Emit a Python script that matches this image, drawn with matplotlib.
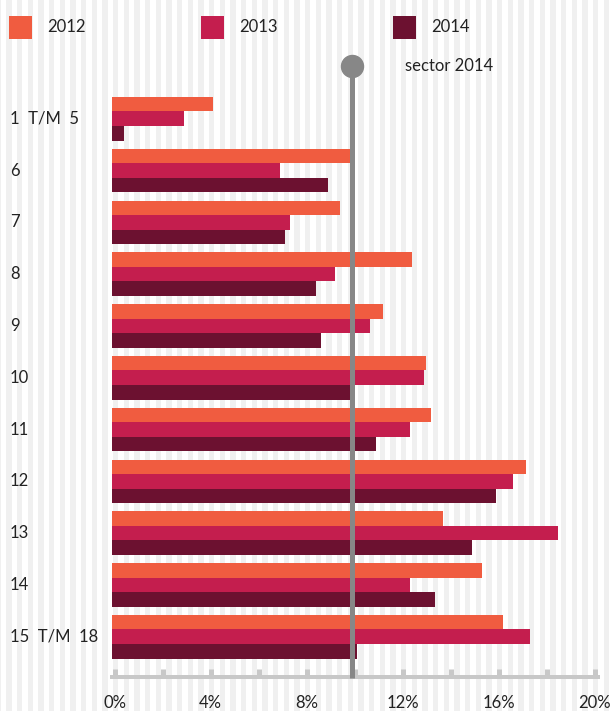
import matplotlib
matplotlib.use("Agg")
import matplotlib.pyplot as plt
import matplotlib.transforms as mtransforms
from matplotlib.patches import Rectangle

plt.rcParams['font.family'] = ['Lato', 'DejaVu Sans']

# Share of workforce per age group (%), per year
categories = ["1  T/M  5", "6", "7", "8", "9", "10", "11", "12", "13", "14", "15  T/M  18"]
years = ["2012", "2013", "2014"]
values_2012 = [4.2, 9.9, 9.5, 12.5, 11.3, 13.1, 13.3, 17.25, 13.8, 15.4, 16.3]
values_2013 = [3.0, 7.0, 7.4, 9.3, 10.75, 13.0, 12.4, 16.7, 18.6, 12.4, 17.4]
values_2014 = [0.5, 9.0, 7.2, 8.5, 8.7, 9.9, 11.0, 16.0, 15.0, 13.45, 10.2]
sector_2014 = 10.0
sector_label = "sector 2014"
x_major = [0, 4, 8, 12, 16, 20]
x_minor = [2, 6, 10, 14, 18]

colors = ["#f05c40", "#c41e4e", "#6c1130"]
ref_color = "#878787"
axis_color = "#c8c8c8"
text_color = "#222222"

W, H, DPI = 614, 711, 100
PT = 72.0 / DPI  # points per pixel

fig = plt.figure(figsize=(W / DPI, H / DPI), dpi=DPI)
fig.patch.set_facecolor("white")

# Pixel-space background layer: vertical stripes and legend
bg = fig.add_axes([0, 0, 1, 1], zorder=0)
bg.set_xlim(0, W)
bg.set_ylim(H, 0)
bg.axis("off")
period = 10.667
x0 = 6.3 - period
while x0 < W:
    bg.axvspan(x0, x0 + period / 2, color="#f0f0f0", lw=0)
    x0 += period

for i, (year, c) in enumerate(zip(years, colors)):
    bg.add_patch(Rectangle((9 + 192 * i, 16), 23, 23, color=c, lw=0))
    bg.text(47 + 192 * i, 27.5, year, va="center", ha="left",
            fontsize=12, color=text_color)

# Main bar chart
left_px, right_px, top_px, axis_px = 112, 592, 50, 677
ax = fig.add_axes([left_px / W, (H - axis_px) / H,
                   (right_px - left_px) / W, (axis_px - top_px) / H], zorder=1)
ax.patch.set_alpha(0)

c0, pitch = 118.75, 51.8   # pixel centre of first group and group spacing


def ypix(p):
    return (p - c0) / pitch


ax.set_ylim(ypix(axis_px), ypix(top_px))
ax.set_xlim(0, 20)

bar_h = 0.28
series = [values_2012, values_2013, values_2014]
for k, (vals, c) in enumerate(zip(series, colors)):
    ys = [i + (k - 1) * bar_h for i in range(len(categories))]
    ax.barh(ys, vals, height=bar_h, color=c, lw=0, zorder=2)

# Category labels on the far left
trans = mtransforms.blended_transform_factory(bg.transData, ax.transData)
for i, cat in enumerate(categories):
    ax.text(10, i, cat, transform=trans, ha="left", va="center",
            fontsize=12, color=text_color, clip_on=False)

# Sector reference line with round head
y_head, y_foot = ypix(66), ypix(678)
ax.plot([sector_2014, sector_2014], [y_head, y_foot], color=ref_color,
        lw=5 * PT, solid_capstyle="butt", clip_on=False, zorder=4)
ax.plot([sector_2014], [y_head], "o", ms=22 * PT, color=ref_color,
        mec=ref_color, clip_on=False, zorder=5)
ax.annotate(sector_label, xy=(sector_2014, y_head), xytext=(53 * PT, 0),
            textcoords="offset points", va="center", ha="left",
            fontsize=12, color=text_color)

# Bottom axis
for side in ["top", "left", "right"]:
    ax.spines[side].set_visible(False)
ax.spines["bottom"].set_color(axis_color)
ax.spines["bottom"].set_linewidth(4 * PT)
ax.spines["bottom"].set_bounds(0, 20.25)
ax.spines["bottom"].set_zorder(3)
ax.set_yticks([])
ax.set_xticks(x_major)
ax.set_xticks(x_minor, minor=True)
ax.set_xticklabels([f"{v}%" for v in x_major])
ax.tick_params(axis="x", which="both", direction="in", length=8 * PT,
               width=5 * PT, color=axis_color, labelsize=12,
               labelcolor=text_color, pad=18 * PT)

# Tick marks sit just right of their value
shift = mtransforms.ScaledTranslation(2.5 / DPI, 0, fig.dpi_scale_trans)
for tick in ax.xaxis.get_major_ticks() + ax.xaxis.get_minor_ticks():
    tick.tick1line.set_transform(tick.tick1line.get_transform() + shift)
    tick.label1.set_transform(tick.label1.get_transform() + shift)

fig.savefig("out.png", dpi=DPI)
